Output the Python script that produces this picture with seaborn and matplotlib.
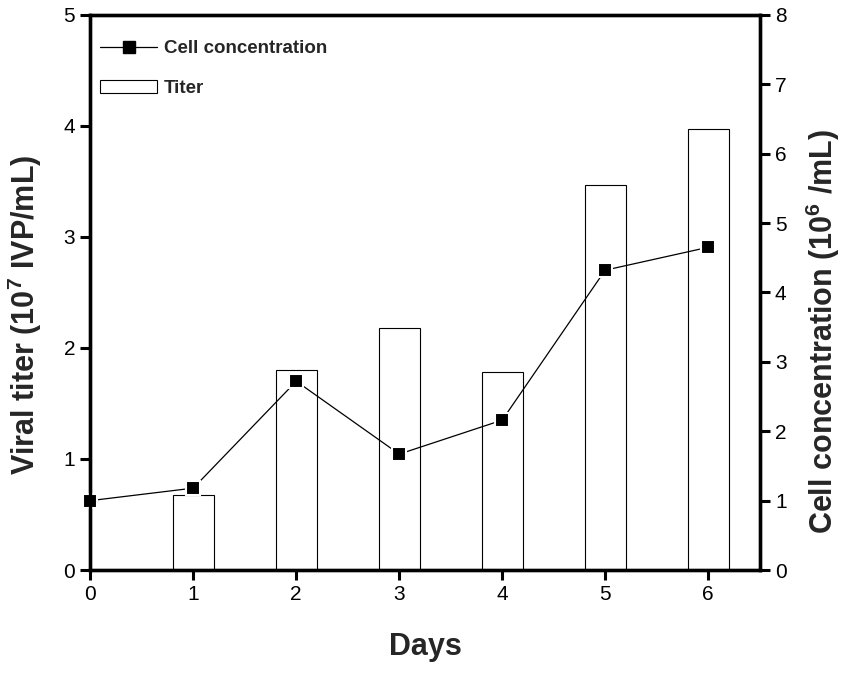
import matplotlib
matplotlib.use("Agg")
import matplotlib.pyplot as plt
import seaborn as sns
import pandas as pd
from matplotlib.lines import Line2D
from matplotlib.patches import Patch

# Data
bar_days = [1, 2, 3, 4, 5, 6]
titer = [0.68, 1.80, 2.18, 1.78, 3.47, 3.97]
line_days = [0, 1, 2, 3, 4, 5, 6]
cell_conc = [1.00, 1.18, 2.72, 1.67, 2.16, 4.32, 4.65]
x_ticks = [0, 1, 2, 3, 4, 5, 6]
left_ticks = [0, 1, 2, 3, 4, 5]
right_ticks = [0, 1, 2, 3, 4, 5, 6, 7, 8]

sns.set_style("ticks")
plt.rcParams['font.family'] = ['Liberation Sans', 'DejaVu Sans']
plt.rcParams['mathtext.fontset'] = 'custom'
plt.rcParams['mathtext.rm'] = 'Liberation Sans:bold'
plt.rcParams['mathtext.default'] = 'rm'

fig = plt.figure(figsize=(8.44, 6.73), dpi=100)
ax = fig.add_axes([0.107, 0.153, 0.793, 0.825])

df_bar = pd.DataFrame({"day": bar_days, "titer": titer})
sns.barplot(data=df_bar, x="day", y="titer", native_scale=True, width=0.4,
            color="white", edgecolor="black", linewidth=0.8, ax=ax)

ax2 = ax.twinx()
df_line = pd.DataFrame({"day": line_days, "cell": cell_conc})
sns.lineplot(data=df_line, x="day", y="cell", color="black", linewidth=0.9,
             marker="s", markersize=10, markerfacecolor="black",
             markeredgecolor="white", markeredgewidth=1.5, ax=ax2, clip_on=False)

ax.set_xlim(0, 6.5)
ax.set_ylim(0, 5)
ax2.set_ylim(0, 8)
ax.set_xticks(x_ticks)
ax.set_xticklabels([str(t) for t in x_ticks])
ax.set_yticks(left_ticks)
ax.set_yticklabels([str(t) for t in left_ticks])
ax2.set_yticks(right_ticks)
ax2.set_yticklabels([str(t) for t in right_ticks])

for a in (ax, ax2):
    for s in a.spines.values():
        s.set_visible(True)
        s.set_linewidth(2.4)
        s.set_color("black")
    a.tick_params(width=2.2, length=7, labelsize=15, colors="black", pad=4)

ax.set_xlabel("Days", fontsize=22, fontweight="bold", labelpad=20)
ax.set_ylabel(r"Viral titer (10$^{7}$ IVP/mL)", fontsize=22, fontweight="bold", labelpad=14)
ax2.set_ylabel(r"Cell concentration (10$^{6}$ /mL)", fontsize=22, fontweight="bold", labelpad=12)
ax.yaxis.label.set_y(0.46)
ax2.yaxis.label.set_y(0.43)

handles = [
    Line2D([0], [0], color="black", linewidth=0.9, marker="s", markersize=8,
           markerfacecolor="black", markeredgecolor="black"),
    Patch(facecolor="white", edgecolor="black", linewidth=0.8),
]
leg = ax2.legend(handles, ["Cell concentration", "Titer"], loc="upper left",
                 bbox_to_anchor=(-0.01, 0.985), frameon=False,
                 prop={"weight": "bold", "size": 13.5}, handlelength=3.0,
                 labelspacing=1.2, handletextpad=0.4)

fig.savefig("out.png", dpi=100)
